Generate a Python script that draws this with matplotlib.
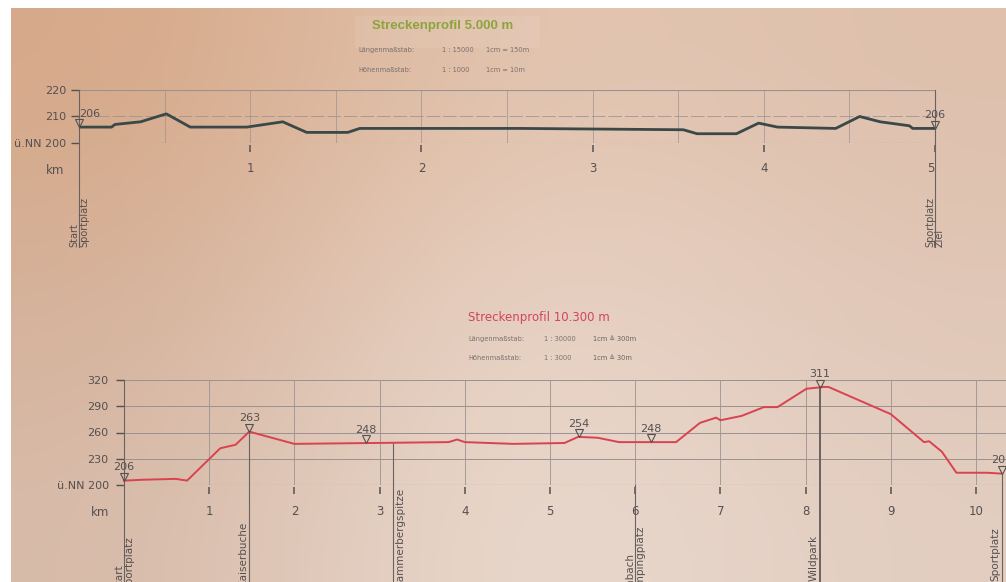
import matplotlib
matplotlib.use("Agg")
import matplotlib.pyplot as plt
import numpy as np
from matplotlib.transforms import blended_transform_factory, offset_copy

W, H = 1006, 582

# Streckenprofil 5.000 m
km_5 = [0, 0.19, 0.21, 0.36, 0.51, 0.65, 0.98, 1.19, 1.33, 1.57, 1.64, 2.58,
        3.53, 3.61, 3.84, 3.97, 4.08, 4.42, 4.56, 4.68, 4.85, 4.87, 5.0]
hoehe_5 = [206, 206, 207, 208, 211, 206, 206, 208, 204, 204, 205.5, 205.5,
           205, 203.5, 203.5, 207.5, 206, 205.5, 210, 208, 206.5, 205.5, 205.5]
marken_5_km = [0, 5]
marken_5 = [206, 206]
orte_5 = ["Start\nSportplatz", "Sportplatz\nZiel"]
orte_5_km = [0, 5]

# Streckenprofil 10.300 m
km_10 = [0, 0.22, 0.61, 0.74, 1.13, 1.31, 1.47, 2.0, 3.81, 3.91,
         4.0, 4.57, 5.17, 5.33, 5.56, 5.81, 6.48, 6.76, 6.95, 7.0,
         7.25, 7.51, 7.67, 8.01, 8.21, 8.27, 9.0, 9.39, 9.45, 9.60,
         9.77, 10.13, 10.3]
hoehe_10 = [205, 206, 207, 205, 242, 246, 261, 247, 249, 252,
            249, 247, 248, 255, 254, 249, 249, 271, 277, 274,
            279, 289, 289, 310, 312, 312, 281, 249, 250, 238,
            214, 214, 213]
marken_10_km = [0, 1.47, 2.84, 5.34, 6.18, 8.17, 10.3]
marken_10 = [206, 263, 248, 254, 248, 311, 206]
orte_10 = ["Start\nSportplatz", "Kaiserbuche", "Hammerbergspitze",
           "Rehbach\nCampingplatz", "Wildpark", "Sportplatz"]
orte_10_km = [0, 1.47, 3.16, 6.0, 8.17, 10.3]

grau = "#555050"
gitter = "#9a9290"


def box(l, t, r, b):
    return [l / W, 1 - b / H, (r - l) / W, (b - t) / H]


def ypx(p):
    return 1 - p / H


fig = plt.figure(figsize=(W / 100, H / 100), dpi=100, facecolor="white")

# Hintergrund (Foto vom Schild)
bg = fig.add_axes(box(11, 8, W, H), zorder=-10)
farben = np.array([
    [[214, 168, 136], [228, 200, 180], [222, 192, 172]],
    [[212, 176, 152], [236, 216, 203], [224, 198, 182]],
    [[215, 186, 168], [237, 222, 212], [226, 205, 192]],
]) / 255
bg.imshow(farben, extent=[0, 1, 0, 1], aspect="auto", interpolation="bicubic")
bg.add_patch(plt.Rectangle(((355 - 11) / (W - 11), 1 - 40 / (H - 8)),
                           185 / (W - 11), 32 / (H - 8),
                           color="white", alpha=0.08, lw=0))
bg.set_xlim(0, 1)
bg.set_ylim(0, 1)
bg.axis("off")

# Titel
fig.text(372 / W, ypx(26), "Streckenprofil 5.000 m", color="#8da43c",
         fontsize=9.5, fontweight="bold", family="Liberation Sans", va="center")
for y, t1, t2, t3 in [(50, "Längenmaßstab:", "1 : 15000", "1cm = 150m"),
                      (70, "Höhenmaßstab:", "1 : 1000", "1cm = 10m")]:
    fig.text(358 / W, ypx(y), t1, fontsize=4.8, color="#7a7070", va="center")
    fig.text(442 / W, ypx(y), t2, fontsize=4.8, color="#7a7070", va="center")
    fig.text(486 / W, ypx(y), t3, fontsize=4.8, color="#7a7070", va="center")

fig.text(468 / W, ypx(318), "Streckenprofil 10.300 m", color="#d0455a",
         fontsize=8.5, va="center")
for y, t1, t2, t3 in [(339, "Längenmaßstab:", "1 : 30000", "1cm ≙ 300m"),
                      (358, "Höhenmaßstab:", "1 : 3000", "1cm ≙ 30m")]:
    fig.text(468 / W, ypx(y), t1, fontsize=4.8, color="#7a7070", va="center")
    fig.text(544 / W, ypx(y), t2, fontsize=4.8, color="#7a7070", va="center")
    fig.text(593 / W, ypx(y), t3, fontsize=4.8, color="#6a6060", va="center")


def achsen(ax, yticks, ylabels, xticks, tick_out, tick_len, ypad, xpad):
    ax.patch.set_alpha(0)
    for s in ax.spines.values():
        s.set_visible(False)
    ax.spines["bottom"].set_position(("outward", tick_out))
    ax.set_xticks(xticks)
    ax.set_xticklabels([str(k) for k in xticks])
    ax.set_yticks(yticks)
    ax.set_yticklabels(ylabels)
    ax.tick_params(axis="x", direction="out", length=tick_len, width=1.1,
                   pad=xpad, labelsize=8.5, colors=grau)
    ax.tick_params(axis="y", direction="out", length=6, width=1.0,
                   pad=ypad, labelsize=8, colors=grau)


def marken(ax, km, werte, ms=5.5, links_erste=False):
    tri = offset_copy(ax.transData, fig=fig, y=ms / 2, units="points")
    lab = offset_copy(ax.transData, fig=fig, y=ms + 0.5, units="points")
    for i, (k, w) in enumerate(zip(km, werte)):
        h = np.interp(k, ax.profil_km, ax.profil_h)
        ax.plot(k, h, marker="v", ms=ms, mfc="none", mec=grau, mew=0.8,
                transform=tri, clip_on=False, zorder=5)
        ha = "left" if (links_erste and i == 0) else "center"
        ax.text(k, h, str(w), transform=lab, ha=ha, va="bottom",
                fontsize=8, color=grau, clip_on=False)


# ---- oberes Profil ----
ax1 = fig.add_axes(box(79, 90, 935, 143))
ax1.set_xlim(0, 5)
ax1.set_ylim(200, 220)
achsen(ax1, [200, 210, 220], ["ü.NN 200", "210", "220"], [1, 2, 3, 4, 5],
       1.5, 5, 3, 7)
ax1.get_xticklabels()[-1].set_ha("right")
ax1.axhline(220, color=gitter, lw=0.8)
ax1.axhline(210, color=gitter, lw=0.7, ls=(0, (14, 3)), alpha=0.8)
ax1.axhline(200, color=gitter, lw=0.8, ls=(0, (14, 3)))
for k in np.arange(0.5, 5, 0.5):
    ax1.axvline(k, color=gitter, lw=0.6, alpha=0.8)
t1 = blended_transform_factory(ax1.transData, fig.transFigure)
for k in orte_5_km:
    ax1.plot([k, k], [ypx(90), ypx(247)], transform=t1, color="#6a6262",
             lw=0.8, clip_on=False)
for k, name in zip(orte_5_km, orte_5):
    ax1.text(k, ypx(247), name, transform=t1, rotation=90, ha="center",
             va="bottom", multialignment="left", fontsize=7, color=grau,
             linespacing=1.0)
ax1.plot(km_5, hoehe_5, color="#3b4848", lw=2.0, solid_joinstyle="round")
ax1.profil_km, ax1.profil_h = km_5, hoehe_5
marken(ax1, marken_5_km, marken_5, links_erste=True)
fig.text(55 / W, ypx(170), "km", fontsize=8.5, color=grau, ha="center",
         va="center")

# ---- unteres Profil ----
ax2 = fig.add_axes(box(124, 380, 1006, 485))
ax2.set_xlim(0, (1006 - 124) / 85.2)
ax2.set_ylim(200, 320)
achsen(ax2, [200, 230, 260, 290, 320],
       ["ü.NN 200", "230", "260", "290", "320"], list(range(1, 11)),
       1.5, 5, 5, 8)
for h in [230, 260, 290, 320]:
    ax2.axhline(h, color=gitter, lw=0.7)
ax2.axhline(200, color=gitter, lw=0.8)
for k in range(1, 11):
    ax2.axvline(k, color=gitter, lw=0.6)
t2 = blended_transform_factory(ax2.transData, fig.transFigure)
ax2.profil_km, ax2.profil_h = km_10, hoehe_10
for i, k in enumerate(orte_10_km):
    top = 320 if i == 0 else np.interp(k, km_10, hoehe_10)
    if k == 6.0:
        top = 200
    if k == 8.17:
        top = 312
    y0 = 1 - (485 - (top - 200) * 105 / 120) / H
    ax2.plot([k, k], [y0, 0], transform=t2, color="#6a6262",
             lw=1.4 if k == 8.17 else 0.8, clip_on=False)
stil = [("center", "bottom", 590, 0), ("right", "top", 522, -1),
        ("left", "top", 488, 2), ("center", "bottom", 598, 0),
        ("right", "top", 535, -1), ("right", "top", 527, -1)]
for k, name, (ha, va, y, dx) in zip(orte_10_km, orte_10, stil):
    tr = offset_copy(t2, fig=fig, x=dx, units="dots")
    ax2.text(k, ypx(y), name, transform=tr, rotation=90, ha=ha, va=va,
             multialignment="left", fontsize=7.5, color=grau, linespacing=1.0)
ax2.plot(km_10, hoehe_10, color="#d9424f", lw=1.4, clip_on=False)
marken(ax2, marken_10_km, marken_10)
fig.text(100 / W, ypx(512), "km", fontsize=8.5, color=grau, ha="center",
         va="center")

fig.savefig("out.png", dpi=100, facecolor="white")
